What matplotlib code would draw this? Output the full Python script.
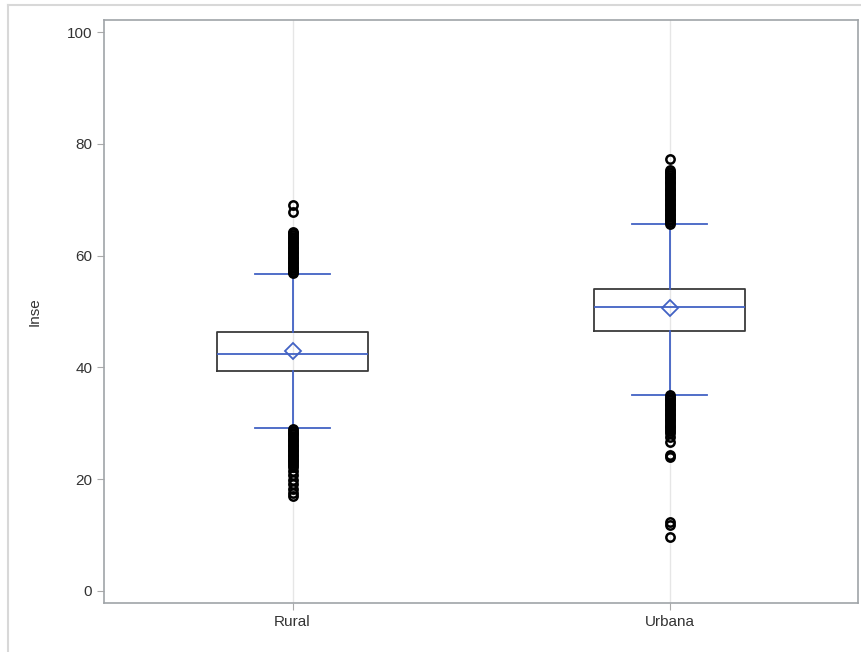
import matplotlib
matplotlib.use("Agg")
from matplotlib import pyplot as plt
from matplotlib.lines import Line2D

plt.rcParams['font.family'] = ['Liberation Sans', 'DejaVu Sans']

categories = ["Rural", "Urbana"]
q1 = [39.4, 46.6]
median = [42.4, 50.8]
q3 = [46.3, 54.0]
mean = [42.9, 50.6]
whis_lo = [29.1, 35.1]
whis_hi = [56.7, 65.6]

# outliers (dense runs + isolated points)
fliers_rural = [56.8, 57.1, 57.4, 57.7, 58.0, 58.3, 58.6, 58.9, 59.2, 59.5,
                59.8, 60.1, 60.4, 60.7, 61.0, 61.3, 61.6, 61.9, 62.2, 62.5,
                62.8, 63.1, 63.4, 63.7, 64.0, 64.3, 67.8, 69.0,
                28.9, 28.6, 28.3, 28.0, 27.7, 27.4, 27.1, 26.8, 26.5, 26.2,
                25.9, 25.6, 25.3, 25.0, 24.7, 24.4, 24.1, 23.8, 23.5, 23.2,
                22.9, 22.6, 22.2, 21.5, 20.7, 19.9, 19.1, 18.3, 17.5, 17.0]
fliers_urbana = [65.7, 66.0, 66.3, 66.6, 66.9, 67.2, 67.5, 67.8, 68.1, 68.4,
                 68.7, 69.0, 69.3, 69.6, 69.9, 70.2, 70.5, 70.8, 71.1, 71.4,
                 71.7, 72.0, 72.3, 72.6, 72.9, 73.2, 73.5, 73.8, 74.1, 74.4,
                 74.7, 75.0, 75.4, 77.3,
                 35.0, 34.7, 34.4, 34.1, 33.8, 33.5, 33.2, 32.9, 32.6, 32.3,
                 32.0, 31.7, 31.4, 31.1, 30.8, 30.5, 30.2, 29.9, 29.6, 29.3,
                 29.0, 28.6, 28.2, 27.5, 26.6, 24.4, 24.0, 12.4, 11.8, 9.6]
fliers = [fliers_rural, fliers_urbana]

blue = "#4262c4"

stats = []
for i, name in enumerate(categories):
    stats.append(dict(label=name, q1=q1[i], med=median[i], q3=q3[i],
                      mean=mean[i], whislo=whis_lo[i], whishi=whis_hi[i],
                      fliers=fliers[i]))

fig = plt.figure(figsize=(8.61, 6.52), dpi=100)
ax = fig.add_axes([104/861, 1 - 603/652, 754/861, 583/652])

ax.bxp(stats, positions=[1, 2], widths=0.4, capwidths=0.2, showmeans=True,
       boxprops=dict(color="#3a3a3a", linewidth=1.3),
       medianprops=dict(color=blue, linewidth=1.3),
       whiskerprops=dict(color=blue, linewidth=1.3),
       capprops=dict(color=blue, linewidth=1.3),
       meanprops=dict(marker="D", markerfacecolor="none",
                      markeredgecolor=blue, markersize=8, markeredgewidth=1.3),
       flierprops=dict(marker="o", markerfacecolor="none",
                       markeredgecolor="black", markersize=6,
                       markeredgewidth=1.8))

ax.set_xlim(0.5, 2.5)
ax.set_ylim(-2.15, 102.15)
ax.set_yticks([0, 20, 40, 60, 80, 100])
ax.set_xticks([1, 2])
ax.set_xticklabels(categories)
ax.xaxis.grid(True, color="#e6e6e6", linewidth=1)
ax.set_axisbelow(True)
ax.set_ylabel("Inse", fontsize=11, color="#333333", labelpad=18)
ax.tick_params(labelsize=11, colors="#333333", length=5, width=0.8)
ax.tick_params(axis="both", color="#aaaaaa")
for s in ax.spines.values():
    s.set_color("#a0a4a8")
    s.set_linewidth(1.2)

# outer frame of the output
fig.add_artist(Line2D([8/861, 1], [1 - 5/652, 1 - 5/652], color="#d8d8d8",
                      linewidth=1.5, transform=fig.transFigure))
fig.add_artist(Line2D([8/861, 8/861], [0, 1 - 5/652], color="#d8d8d8",
                      linewidth=1.5, transform=fig.transFigure))

plt.savefig("out.png")
